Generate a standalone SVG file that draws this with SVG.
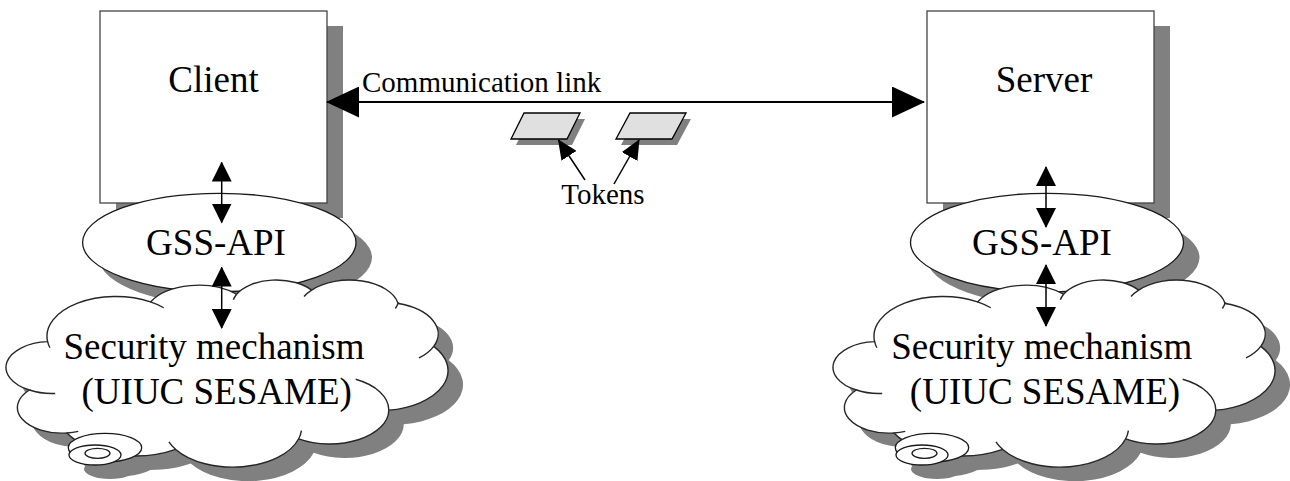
<svg xmlns="http://www.w3.org/2000/svg" xmlns:xlink="http://www.w3.org/1999/xlink" width="1290" height="481" viewBox="0 0 1290 481">
  <style>
    .shadow { fill: #808080; stroke: none; }
    .box { fill: #ffffff; stroke: #444444; stroke-width: 1.3; }
    .oval { fill: #ffffff; stroke: #1a1a1a; stroke-width: 1.3; }
    .cloud { fill: #ffffff; stroke: #262626; stroke-width: 1.4; }
    .crease { fill: none; stroke: #262626; stroke-width: 1.4; }
    .token { fill: #e0e0e0; stroke: #000000; stroke-width: 1.3; }
    .lbl { font-family: "Liberation Serif", "Times New Roman", serif; font-size: 37px; fill: #000000; text-anchor: middle; }
    .lbl-sm { font-family: "Liberation Serif", "Times New Roman", serif; font-size: 29px; fill: #000000; }
    .link { fill: none; stroke: #000000; stroke-width: 2; }
    .wire { fill: none; stroke: #000000; stroke-width: 1.5; }
  </style>
  <defs>
    <!-- cloud outline in a 43200 x 43200 unit frame -->
    <path id="cloudOutline" vector-effect="non-scaling-stroke" d="M3900 14370 A6753 9190 0 0 1 14003 5201 A5333 7267 0 0 1 22454 3431 A4365 5945 0 0 1 29831 2480 A4857 6595 0 0 1 38316 5575 A5333 7273 0 0 1 41817 15458 A6775 9220 0 0 1 37403 30202 A5785 7867 0 0 1 28554 36812 A6752 9215 0 0 1 16479 39263 A7720 10543 0 0 1 5803 35469 A4360 5918 0 0 1 2112 25547 A4345 5945 0 0 1 3900 14370 Z"/>
    <!-- inner fold lines between the puffs -->
    <path id="cloudCreases" vector-effect="non-scaling-stroke" d="M4645 26344 A4345 5945 0 0 1 2112 25547 M6912 35087 A4360 5918 0 0 1 5803 35469 M16479 39263 A6752 9215 0 0 1 15811 37523 M28821 34903 A6752 9215 0 0 1 28554 36812 M34151 23066 A5785 7867 0 0 1 37403 30202 M41817 15458 A5333 7273 0 0 1 40369 18134 M38324 5426 A4857 6595 0 0 1 38051 6715 M29078 3952 A4857 6595 0 0 1 29831 2480 M22141 4720 A4365 5945 0 0 1 22454 3431 M14003 5201 A6753 9190 0 0 1 15305 6550 M4127 15789 A6753 9190 0 0 1 3900 14370"/>
    <marker id="headBig" viewBox="0 0 33 31" refX="32" refY="15.5" markerWidth="33" markerHeight="31" markerUnits="userSpaceOnUse" orient="auto-start-reverse">
      <path d="M0,0 L33,15.5 L0,31 Z" fill="#000000"/>
    </marker>
    <marker id="headMid" viewBox="0 0 20 20" refX="19" refY="10" markerWidth="20" markerHeight="20" markerUnits="userSpaceOnUse" orient="auto-start-reverse">
      <path d="M0,0 L20,10 L0,20 Z" fill="#000000"/>
    </marker>
    <marker id="headSmall" viewBox="0 0 20 18" refX="19" refY="9" markerWidth="20" markerHeight="18" markerUnits="userSpaceOnUse" orient="auto">
      <path d="M0,0 L20,9 L0,18 Z" fill="#000000"/>
    </marker>
  </defs>

  <!-- client side -->
  <g id="client">
    <rect class="shadow" x="116" y="26" width="227" height="192"/>
    <rect class="box" x="100" y="11" width="227" height="192"/>
    <text class="lbl" x="213.5" y="92">Client</text>
  </g>
  <g id="client-gssapi">
    <ellipse class="shadow" cx="235.3" cy="257.5" rx="136.7" ry="49.2"/>
    <ellipse class="oval" cx="219.3" cy="242.5" rx="136.7" ry="49.2"/>
    <text class="lbl" x="216" y="255">GSS-API</text>
  </g>
  <g id="client-mechanism">
    <g transform="translate(22.88 293.4) scale(0.010184 0.00433)">
      <use xlink:href="#cloudOutline" class="shadow"/>
    </g>
    <ellipse class="shadow" cx="120" cy="462" rx="36.7" ry="14.3"/>
    <ellipse class="shadow" cx="110" cy="469" rx="26" ry="10"/>
    <g transform="translate(7.88 279.4) scale(0.010184 0.00433)">
      <use xlink:href="#cloudOutline" class="cloud"/>
      <use xlink:href="#cloudCreases" class="crease"/>
    </g>
    <ellipse class="oval" cx="105" cy="447.7" rx="36.7" ry="14.3"/>
    <ellipse class="oval" cx="95" cy="455" rx="26" ry="10"/>
    <ellipse class="oval" cx="97.5" cy="453.3" rx="12.5" ry="5"/>
    <text class="lbl" x="214" y="359">Security mechanism</text>
    <text class="lbl" x="216.7" y="404">(UIUC SESAME)</text>
  </g>

  <!-- server side -->
  <g id="server">
    <rect class="shadow" x="943" y="26" width="227" height="192"/>
    <rect class="box" x="927" y="11" width="227" height="192"/>
    <text class="lbl" x="1044" y="92">Server</text>
  </g>
  <g id="server-gssapi">
    <ellipse class="shadow" cx="1063" cy="257.5" rx="136.5" ry="49.2"/>
    <ellipse class="oval" cx="1047" cy="242.5" rx="136.5" ry="49.2"/>
    <text class="lbl" x="1042" y="255">GSS-API</text>
  </g>
  <g id="server-mechanism">
    <g transform="translate(849.88 293.4) scale(0.010184 0.00433)">
      <use xlink:href="#cloudOutline" class="shadow"/>
    </g>
    <ellipse class="shadow" cx="947" cy="462" rx="36.7" ry="14.3"/>
    <ellipse class="shadow" cx="937" cy="469" rx="26" ry="10"/>
    <g transform="translate(834.88 279.4) scale(0.010184 0.00433)">
      <use xlink:href="#cloudOutline" class="cloud"/>
      <use xlink:href="#cloudCreases" class="crease"/>
    </g>
    <ellipse class="oval" cx="932" cy="447.7" rx="36.7" ry="14.3"/>
    <ellipse class="oval" cx="922" cy="455" rx="26" ry="10"/>
    <ellipse class="oval" cx="924.5" cy="453.3" rx="12.5" ry="5"/>
    <text class="lbl" x="1041.7" y="359">Security mechanism</text>
    <text class="lbl" x="1045" y="404">(UIUC SESAME)</text>
  </g>

  <!-- tokens in transit -->
  <g id="token-1">
    <polygon class="shadow" points="529,119 585,119 572,145 516,145"/>
    <polygon class="token" points="524,113 580,113 567,139 511,139"/>
  </g>
  <g id="token-2">
    <polygon class="shadow" points="635,119 691,119 677,145 621,145"/>
    <polygon class="token" points="630,113 686,113 672,139 616,139"/>
  </g>
  <g id="tokens-label">
    <text class="lbl-sm" x="603" y="204" text-anchor="middle">Tokens</text>
  </g>

  <!-- connectors -->
  <g id="connectors">
    <path class="link" d="M327,102 H924" marker-start="url(#headBig)" marker-end="url(#headBig)"/>
    <text class="lbl-sm" x="362" y="92">Communication link</text>
    <path class="wire" d="M221.7,162.5 V222.5" marker-start="url(#headMid)" marker-end="url(#headMid)"/>
    <path class="wire" d="M221.7,267.5 V328" marker-start="url(#headMid)" marker-end="url(#headMid)"/>
    <path class="wire" d="M1046,167 V227" marker-start="url(#headMid)" marker-end="url(#headMid)"/>
    <path class="wire" d="M1046,265 V326" marker-start="url(#headMid)" marker-end="url(#headMid)"/>
    <path class="wire" d="M585,180 L558.5,140" marker-end="url(#headSmall)"/>
    <path class="wire" d="M614,184 L639,140" marker-end="url(#headSmall)"/>
  </g>
</svg>
